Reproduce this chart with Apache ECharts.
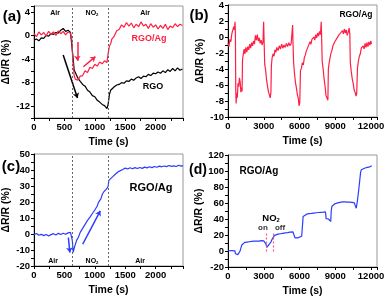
<!DOCTYPE html>
<html><head><meta charset="utf-8">
<script src="https://cdn.jsdelivr.net/npm/echarts@6/dist/echarts.min.js"></script>
<style>html,body{margin:0;padding:0;background:#fff}#c{width:392px;height:297px}</style>
</head><body><div id="c"></div>
<script>
// ---------- Panel (a) ----------
const aTime=[0,40,80,120,160,200,240,280,320,360,400,440,480,520,560,600,620,640,660,680,720,760,800,840,880,920,960,1000,1040,1080,1120,1160,1200,1220,1240,1260,1280,1320,1360,1400,1440,1480,1520,1560,1600,1640,1680,1720,1760,1800,1840,1880,1920,1960,2000,2040,2080,2120,2160,2200,2240,2280,2320,2360,2400,2440];
const aRGOAg=[0.3,-0.2,0.6,0.1,0.5,-0.1,0.7,0.2,0.6,0.0,0.8,0.3,0.7,0.1,0.6,0.4,-0.5,-4.5,-6.8,-7.4,-7.6,-6.9,-6.8,-6.0,-6.3,-5.4,-5.6,-4.9,-5.2,-4.5,-4.8,-4.3,-4.6,-3.0,-1.8,-1.4,-0.6,-0.1,0.8,1.0,1.8,1.4,2.2,1.6,2.1,1.3,1.9,1.5,2.3,1.6,1.9,1.2,2.0,1.4,1.8,1.1,1.7,1.2,1.9,1.0,1.6,1.3,2.0,1.5,1.9,1.7];
const aRGO=[-0.8,-0.6,-0.9,-0.4,-0.5,0.0,-0.1,0.3,0.2,0.5,0.4,0.9,1.2,0.7,0.9,0.5,0.2,-3.5,-5.8,-6.3,-7.2,-7.8,-8.3,-8.6,-9.3,-9.6,-10.2,-10.4,-11.0,-11.3,-11.7,-11.9,-12.4,-11.6,-10.0,-9.3,-9.0,-8.7,-8.4,-8.3,-8.0,-8.1,-7.7,-7.8,-7.4,-7.6,-7.2,-7.0,-7.3,-6.9,-7.0,-6.6,-6.8,-6.4,-6.5,-6.2,-6.4,-6.0,-6.3,-5.8,-6.1,-5.6,-6.0,-5.5,-5.9,-5.7];
const aGasSwitch=[630,1225];
const aXLabels=[0,500,1000,1500,2000];
const aYLabels=[-12,-8,-4,0,4];

// ---------- Panel (b) ----------
const bTime=[0,80,160,240,320,400,480,540,590,620,650,680,720,780,840,900,960,1020,1080,1140,1180,1220,1280,1350,1420,1500,1580,1660,1740,1820,1900,1980,2060,2140,2220,2300,2380,2460,2540,2620,2700,2780,2860,2940,2990,3020,3080,3160,3240,3320,3400,3480,3540,3600,3640,3700,3780,3860,3940,4020,4100,4200,4300,4400,4500,4600,4700,4800,4900,5000,5100,5200,5300,5380,5420,5450,5500,5580,5660,5740,5820,5900,5960,6020,6080,6160,6240,6320,6400,6480,6560,6640,6720,6800,6880,6960,7040,7120,7200,7280,7360,7440,7520,7600,7680,7760,7820,7850,7900,7980,8060,8140,8220,8300,8380,8420,8480,8560,8640,8720,8800,8880,8960,9040,9120,9200,9280,9360,9440,9520,9600,9680,9760,9840,9920,10000,10080,10160,10220,10260,10340,10420,10500,10580,10660,10740,10800,10860,10940,11020,11100,11180,11260,11340,11420,11500,11580,11660,11740,11820,11900,11980,12040];
const bRGOAg=[-0.8,-1.2,-0.3,-0.6,0.4,0.2,1.3,0.9,1.9,0.5,-6.5,-8.3,-7.0,-7.6,-5.8,-6.2,-5.1,-5.6,-6.9,-6.3,-6.8,-2.8,-2.2,-1.5,-2.1,-1.3,-1.9,-1.2,-1.6,-0.9,-1.4,-0.7,-1.1,-0.5,-0.9,0.2,-0.4,0.3,-0.5,-0.1,-0.8,-0.4,-1.0,-0.6,1.9,0.0,-3.4,-4.2,-5.4,-6.2,-6.9,-7.3,-7.6,-6.9,-3.6,-2.6,-2.1,-2.4,-1.6,-1.9,-1.3,-1.7,-1.1,-1.5,-0.9,-1.4,-1.0,-1.3,-0.8,-1.2,-0.7,-1.1,-0.8,-1.0,1.5,-0.5,-3.1,-4.6,-5.7,-6.4,-7.2,-7.7,-8.6,-8.2,-4.2,-3.9,-3.2,-3.5,-2.6,-2.3,-1.8,-1.9,-1.2,-1.1,-0.6,-0.9,-0.3,-0.5,0.0,-0.4,0.3,-0.1,0.5,0.1,0.7,0.3,1.9,0.4,-3.0,-4.0,-5.2,-6.1,-7.3,-7.1,-7.9,-4.0,-3.3,-2.6,-2.0,-1.7,-1.1,-1.2,-0.6,-0.7,-0.2,-0.4,0.2,0.0,0.5,0.3,0.8,0.4,1.0,0.5,0.9,0.2,0.6,1.1,0.4,-3.2,-4.3,-5.2,-5.8,-6.6,-6.9,-7.4,-7.0,-3.9,-3.0,-2.4,-2.1,-1.4,-1.6,-1.1,-1.5,-0.8,-1.3,-0.7,-1.2,-0.6,-1.0,-0.5,-0.9];
const bXLabels=[0,3000,6000,9000,12000];
const bYLabels=[-10,-8,-6,-4,-2,0,2,4];

// ---------- Panel (c) ----------
const cTime=[0,40,80,120,160,200,240,280,320,360,400,440,480,520,560,600,620,630,645,660,680,700,730,760,800,840,880,920,960,1000,1040,1060,1080,1100,1120,1140,1160,1200,1220,1230,1260,1300,1340,1380,1420,1460,1500,1540,1580,1620,1660,1700,1740,1780,1820,1860,1900,1940,1980,2020,2060,2100,2140,2180,2220,2260,2300,2340,2380,2420,2450];
const cRGOAg=[-0.5,0.3,-0.8,-0.2,-1.0,-0.3,-1.2,-0.4,0.2,-0.6,0.4,-0.3,0.5,-0.2,0.7,1.0,1.3,-4.0,-11.5,-9.0,-6.5,-4.0,-2.0,1.0,3.5,6.0,8.5,10.5,12.8,15.0,17.5,19.8,20.5,22.0,24.5,26.0,26.8,28.5,30.0,33.5,34.5,36.0,37.5,38.8,39.6,40.3,41.2,40.6,41.4,40.8,41.5,40.9,41.6,41.0,41.8,41.3,42.0,41.5,42.2,41.7,42.4,42.0,42.5,42.1,42.8,42.3,42.6,42.2,43.0,42.4,42.7];
const cYLabels=[-20,-10,0,10,20,30,40,50];

// ---------- Panel (d) ----------
const dTime=[0,150,300,450,580,630,720,820,920,1000,1080,1160,1260,1400,1600,1800,2000,2200,2400,2600,2800,3000,3150,3190,3250,3330,3430,3530,3620,3720,3830,3900,4000,4200,4400,4600,4800,5000,5200,5450,5550,5620,5700,5850,6000,6180,6240,6300,6400,6600,6800,7000,7200,7400,7600,7800,8000,8180,8230,8320,8420,8520,8620,8660,8720,8850,9000,9200,9400,9600,9800,10000,10200,10400,10600,10680,10760,10850,10950,11050,11120,11180,11300,11500,11700,11900,12060];
const dRGOAg=[0.3,-0.3,0.5,-0.1,0.2,-3.5,-5.2,-4.5,-3.0,-0.5,3.5,7.5,10.0,10.8,11.2,11.6,12.0,12.3,12.5,12.4,12.9,12.7,12.8,8.5,4.6,6.2,7.8,9.6,11.8,15.2,17.5,19.6,20.4,21.1,21.6,22.1,22.6,23.0,23.5,23.8,22.5,16.5,15.8,16.4,17.3,18.5,30.0,43.0,44.8,46.0,46.7,47.0,47.4,47.8,48.1,48.4,48.5,48.8,40.5,39.0,40.0,37.5,37.0,50.0,56.0,58.0,59.3,60.2,60.8,61.3,61.5,61.2,61.0,60.8,60.2,56.5,53.5,62.0,74.0,88.0,98.0,101.5,102.8,103.8,104.5,105.2,106.5];
const dGasOn=3180, dGasOff=3820;
const dYLabels=[-20,0,20,40,60,80,100,120];

// ---------- build ----------
const FONT='"Liberation Sans", Arial, sans-serif';
const RED='#ff1f44', BLUE='#2a3cff';
const zip=(t,v)=>t.map((x,i)=>[x,v[i]]);
const plain=v=>String(v);

function xAxis(gi,max,interval,labels){
  return {type:'value',gridIndex:gi,min:0,max:max,interval:interval,
    name:'Time (s)',nameLocation:'middle',nameGap:19,
    nameTextStyle:{fontFamily:FONT,fontWeight:'bold',fontSize:10.5,color:'#000'},
    axisLine:{show:true,onZero:false,lineStyle:{color:'#000',width:1}},
    axisTick:{show:true,length:3,lineStyle:{color:'#000'}},
    axisLabel:{customValues:labels,formatter:plain,margin:4,fontFamily:FONT,fontWeight:'bold',fontSize:9.5,color:'#000'},
    splitLine:{show:false}};
}
function yAxis(gi,min,max,interval,labels){
  return {type:'value',gridIndex:gi,min:min,max:max,interval:interval,
    name:'\u0394R/R (%)',nameLocation:'middle',nameGap:22,nameRotate:90,
    nameTextStyle:{fontFamily:FONT,fontWeight:'bold',fontSize:10.5,color:'#000'},
    axisLine:{show:true,onZero:false,lineStyle:{color:'#000',width:1}},
    axisTick:{show:true,length:3,lineStyle:{color:'#000'}},
    axisLabel:{customValues:labels,formatter:plain,margin:4,fontFamily:FONT,fontWeight:'bold',fontSize:9.5,color:'#000'},
    splitLine:{show:false}};
}
function gridRect(l,t){return {left:l,top:t,width:149,height:112,show:true,borderColor:'#999',borderWidth:1,backgroundColor:'transparent',containLabel:false,outerBoundsMode:'none'};}

function arrow(from,to,color,curve){
  return [{coord:from,lineStyle:{color:color,width:1.5,type:'solid',curveness:curve||0}},{coord:to}];
}
const vline=(x)=>({xAxis:x,lineStyle:{color:'#666',width:1,type:[2,2]}});

function txt(x,y,s,size,color,align){
  return {type:'text',x:x,y:y,silent:true,style:{text:s,fill:color||'#000',font:'bold '+size+'px '+FONT,align:align||'center',verticalAlign:'middle'}};
}
function no2(x,y,size){
  return {type:'text',x:x,y:y,silent:true,style:{text:'{a|NO}{b|2}',align:'center',verticalAlign:'middle',
    rich:{a:{fontFamily:FONT,fontWeight:'bold',fontSize:size,fill:'#000'},b:{fontFamily:FONT,fontWeight:'bold',fontSize:size*0.6,fill:'#000',verticalAlign:'bottom',padding:[size*0.5,0,0,0]}}}};
}

const option={
  animation:false,
  backgroundColor:'#fff',
  grid:[gridRect(34,6),gridRect(228,5),gridRect(34,154),gridRect(228,155)],
  xAxis:[xAxis(0,2450,250,aXLabels),xAxis(1,12500,1500,bXLabels),xAxis(2,2450,250,aXLabels),xAxis(3,12500,1500,bXLabels)],
  yAxis:[yAxis(0,-14,5,2,aYLabels),yAxis(1,-10,4,1,bYLabels),yAxis(2,-20,50,5,cYLabels),yAxis(3,-20,120,10,dYLabels)],
  series:[
    {type:'line',xAxisIndex:0,yAxisIndex:0,data:zip(aTime,aRGO),showSymbol:false,lineStyle:{color:'#000',width:1.2},
      markLine:{silent:true,symbol:['none','arrow'],symbolSize:5,label:{show:false},
        data:[arrow([480,-3.3],[715,-10.6],'#000',-0.2)]}},
    {type:'line',xAxisIndex:0,yAxisIndex:0,data:zip(aTime,aRGOAg),showSymbol:false,lineStyle:{color:RED,width:1.2},
      markLine:{silent:true,symbol:['none','arrow'],symbolSize:5,label:{show:false},
        data:[arrow([713,-1.1],[713,-4.3],RED),arrow([812,-5.3],[1010,-3.6],RED)]}},
    {type:'line',xAxisIndex:0,yAxisIndex:0,data:[],
      markLine:{silent:true,symbol:['none','none'],label:{show:false},data:aGasSwitch.map(vline)}},
    {type:'line',xAxisIndex:1,yAxisIndex:1,data:zip(bTime,bRGOAg),showSymbol:false,lineStyle:{color:RED,width:1.2}},
    {type:'line',xAxisIndex:2,yAxisIndex:2,data:zip(cTime,cRGOAg),showSymbol:false,lineStyle:{color:BLUE,width:1.2},
      markLine:{silent:true,symbol:['none','arrow'],symbolSize:5,label:{show:false},
        data:[arrow([565,-2.2],[590,-11.6],BLUE),arrow([800,-6.4],[1090,14.5],BLUE,0.15)]}},
    {type:'line',xAxisIndex:2,yAxisIndex:2,data:[],
      markLine:{silent:true,symbol:['none','none'],label:{show:false},data:aGasSwitch.map(vline)}},
    {type:'line',xAxisIndex:3,yAxisIndex:3,data:zip(dTime,dRGOAg),showSymbol:false,lineStyle:{color:BLUE,width:1.2},
      markLine:{silent:true,symbol:['none','none'],label:{show:false},
        data:[[{coord:[dGasOn,22],lineStyle:{color:'#ff5577',width:1.2,type:[2,2]}},{coord:[dGasOn,-3]}],
              [{coord:[dGasOff,22],lineStyle:{color:'#ff5577',width:1.2,type:[2,2]}},{coord:[dGasOff,-3]}]]}}
  ],
  graphic:[
    txt(12,17,'(a)',15),txt(199,16,'(b)',15),txt(11,167,'(c)',15),txt(198,170,'(d)',14),
    txt(55,13,'Air',7),no2(92,13,7),txt(145,13,'Air',7),
    txt(149,39,'RGO/Ag',9,RED),txt(153,87,'RGO',9),
    txt(356,15,'RGO/Ag',8.5),
    txt(151,188,'RGO/Ag',11),txt(53,261,'Air',7),no2(92,261,7),txt(140,261,'Air',7),
    txt(259,171,'RGO/Ag',10),no2(271,218,9.5),txt(263,228,'on',8,'#333'),txt(280,228,'off',8,'#333')
  ]
};
const chart=echarts.init(document.getElementById('c'),null,{renderer:'canvas'});
chart.setOption(option);
</script></body></html>
